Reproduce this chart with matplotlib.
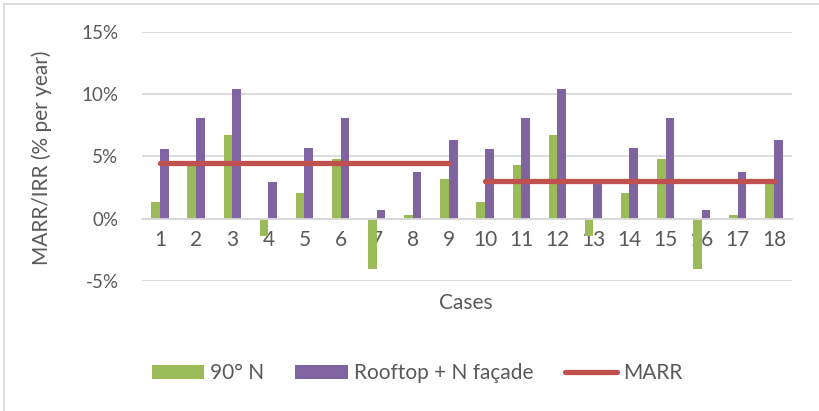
import numpy as np
import matplotlib
matplotlib.use("Agg")
import matplotlib.pyplot as plt
from matplotlib.patches import Rectangle

# Datos (% por año)
cases = [str(i) for i in range(1, 19)]
irr_90n = [1.3, 4.3, 6.75, -1.4, 2.05, 4.75, -4.05, 0.25, 3.15,
           1.3, 4.3, 6.75, -1.4, 2.05, 4.75, -4.05, 0.25, 3.15]
irr_roof = [5.6, 8.1, 10.45, 2.9, 5.65, 8.05, 0.7, 3.75, 6.3,
            5.6, 8.1, 10.45, 2.9, 5.65, 8.05, 0.7, 3.75, 6.3]
marr = [4.45] * 9 + [3.0] * 9
y_ticks = [-5, 0, 5, 10, 15]

green = '#9BBB59'
purple = '#8064A2'
red = '#C0504D'
grey_txt = '#595959'
grid_c = '#D9D9D9'

plt.rcParams['font.family'] = ['Lato', 'DejaVu Sans']

fig = plt.figure(figsize=(8.19, 4.11), dpi=100)
ax = fig.add_axes([142 / 819, 1 - 280.7 / 411, 650 / 819, 248.7 / 411])

x = np.arange(len(cases))
w = 0.24
b1 = ax.bar(x - w / 2, irr_90n, w, color=green, label='90° N', zorder=2)
b2 = ax.bar(x + w / 2, irr_roof, w, color=purple, label='Rooftop + N façade', zorder=2)

# MARR en dos tramos (casos 1-9 y 10-18)
l1, = ax.plot(x[:9], marr[:9], color=red, lw=3.8, solid_capstyle='round', zorder=3, label='MARR')
ax.plot(x[9:], marr[9:], color=red, lw=3.8, solid_capstyle='round', zorder=3)

ax.set_xlim(-0.5, len(cases) - 0.5)
ax.set_ylim(-5, 15)
ax.set_yticks(y_ticks)
ax.set_yticklabels([f'{v}%' for v in y_ticks])
ax.yaxis.grid(True, color=grid_c, lw=1.3, zorder=0)
ax.set_axisbelow(True)

ax.set_xticks(x)
ax.set_xticklabels(cases)
ax.spines['bottom'].set_position(('data', 0))
ax.spines['bottom'].set_color(grid_c)
ax.spines['bottom'].set_linewidth(1.3)
for s in ['left', 'right', 'top']:
    ax.spines[s].set_visible(False)

ax.tick_params(axis='y', length=0, pad=17, labelsize=13.5, labelcolor=grey_txt)
ax.tick_params(axis='x', length=0, pad=8, labelsize=15, labelcolor=grey_txt)

fig.text(42 / 819, 1 - 158 / 411, 'MARR/IRR (% per year)', rotation=90,
         ha='center', va='center', fontsize=15, color=grey_txt)
fig.text(466 / 819, 1 - 303 / 411, 'Cases', ha='center', va='center',
         fontsize=15, color=grey_txt)

fig.legend([b1, b2, l1], ['90° N', 'Rooftop + N façade', 'MARR'],
           loc='center', bbox_to_anchor=(417 / 819, 1 - 373 / 411), ncol=3,
           frameon=False, fontsize=15, labelcolor=grey_txt,
           handlelength=2.5, handleheight=0.65, handletextpad=0.3,
           columnspacing=1.5)

# Borde del área del gráfico
fig.add_artist(Rectangle((4 / 819, -0.1), 1.2, 1 - 3.5 / 411 + 0.1,
                         transform=fig.transFigure, fill=False,
                         edgecolor=grid_c, lw=1.3))

fig.savefig('out.png', dpi=100)
